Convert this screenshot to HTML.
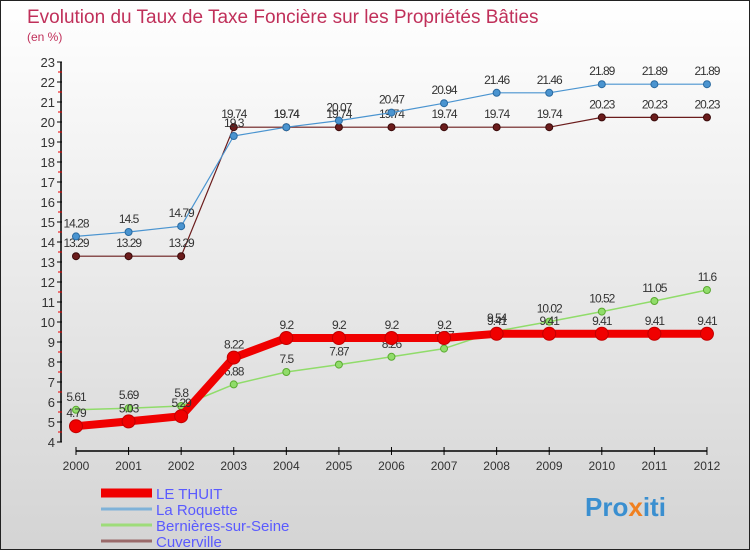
<!DOCTYPE html>
<html><head><meta charset="utf-8"><style>
body{margin:0}
#c{width:750px;height:550px;position:relative;box-sizing:border-box;border:1px solid #222;background:linear-gradient(#fff,#d4d4d4);font-family:"Liberation Sans",sans-serif;overflow:hidden}
svg{position:absolute;left:0;top:0}
</style></head><body>
<div id="c">
<svg id="s" width="750" height="550">
<text x="26" y="22" font-size="19" fill="#c0305a">Evolution du Taux de Taxe Foncière sur les Propriétés Bâties</text>
<text x="26" y="40" font-size="12" fill="#c0305a">(en %)</text>
<text x="584" y="515" font-size="26" font-weight="bold" fill="#3a8fd0">Pro<tspan fill="#f08020">x</tspan>iti</text>
</svg>
</div>
<script>
const years=[2000,2001,2002,2003,2004,2005,2006,2007,2008,2009,2010,2011,2012];
const leThuit=[4.79,5.03,5.29,8.22,9.2,9.2,9.2,9.2,9.41,9.41,9.41,9.41,9.41];
const laRoquette=[14.28,14.5,14.79,19.3,19.74,20.07,20.47,20.94,21.46,21.46,21.89,21.89,21.89];
const bernieres=[5.61,5.69,5.8,6.88,7.5,7.87,8.26,8.67,9.54,10.02,10.52,11.05,11.6];
const cuverville=[13.29,13.29,13.29,19.74,19.74,19.74,19.74,19.74,19.74,19.74,20.23,20.23,20.23];
const yTicks=[4,5,6,7,8,9,10,11,12,13,14,15,16,17,18,19,20,21,22,23];
const seriesNames=["LE THUIT","La Roquette","Bernières-sur-Seine","Cuverville"];
const NS="http://www.w3.org/2000/svg",s=document.getElementById('s');
const X=i=>75+i*52.58, Y=v=>441-(v-4)*20;
function el(t,a,p){const e=document.createElementNS(NS,t);for(const k in a)e.setAttribute(k,a[k]);(p||s).appendChild(e);return e;}
let ya=el('line',{x1:60,y1:Y(23),x2:60,y2:Y(4),stroke:'#000','stroke-width':1.5});


yTicks.forEach(v=>{
 el('line',{x1:56,y1:Y(v),x2:61,y2:Y(v),stroke:'#000'});
 if(v<23)el('line',{x1:57,y1:Y(v+0.5),x2:61,y2:Y(v+0.5),stroke:'#e00'});
 let t=el('text',{x:54,y:Y(v)+5,'text-anchor':'end','font-size':13,fill:'#333'});t.textContent=v;
 
 
});
let xa=el('line',{x1:75,y1:450,x2:X(12),y2:450,stroke:'#000','stroke-width':1.5});


years.forEach((y,i)=>{
 el('line',{x1:X(i),y1:446,x2:X(i),y2:454,stroke:'#000'});
 let t=el('text',{x:X(i),y:469,'text-anchor':'middle','font-size':12,fill:'#333'});t.textContent=y;
 
 
});
function series(d,col,w,r,name,dotStroke){
 const g=el('g',{});
 
 
 el('polyline',{points:d.map((v,i)=>X(i)+','+Y(v)).join(' '),fill:'none',stroke:col,'stroke-width':w,'stroke-linejoin':'round'},g);
 d.forEach((v,i)=>{
  const c=el('circle',{cx:X(i),cy:Y(v),r:r,fill:col,stroke:dotStroke,'stroke-width':1},g);
  
  
  const t=el('text',{x:X(i),y:Y(v)-9,'text-anchor':'middle','font-size':12,fill:'#333','letter-spacing':'-1'},g);
  t.textContent=String(v);
  
  
 });
}
series(cuverville,'#6b1c1c',1.2,3.5,'cuverville-series','#3a0a0a');
series(laRoquette,'#4a94d0',1.2,3.5,'la-roquette-series','#2a6aa0');
series(bernieres,'#90dc6a',1.5,3.5,'bernieres-series','#5aaa30');
series(leThuit,'#f00000',8,6.5,'le-thuit-series','#c00000');
const lc=['#f00000','#7fb2d8','#9edc7a','#9a6a6a'],lw=[9,3,3,3];
seriesNames.forEach((n,i)=>{
 const y=492+i*16;
 const g=el('g',{});
 
 
 el('line',{x1:100,y1:y,x2:151,y2:y,stroke:lc[i],'stroke-width':lw[i]},g);
 const t=el('text',{x:155,y:y+6,'font-size':15,fill:'#5a5aff'},g);t.textContent=n;
});
</script>
</body></html>
